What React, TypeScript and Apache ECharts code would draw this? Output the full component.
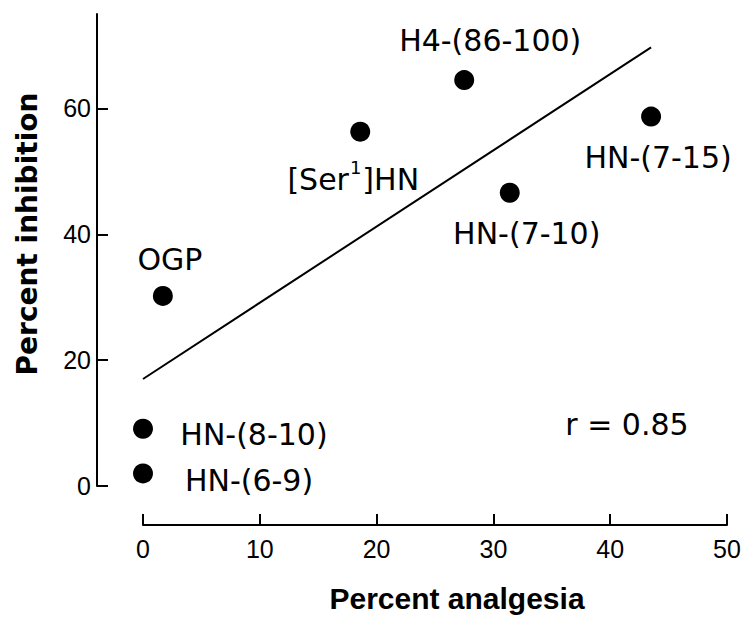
import React, { useEffect, useRef } from "react";
import * as echarts from "echarts";

// Peptides: percent analgesia (x) vs percent inhibition (y)
const PEPTIDES = ["OGP", "{n|[Ser}{sup|1}{n|]HN}", "H4-(86-100)", "HN-(7-10)", "HN-(7-15)", "HN-(8-10)", "HN-(6-9)"];
const ANALGESIA = [1.7, 18.6, 27.5, 31.4, 43.5, 0, 0];
const INHIBITION = [30.2, 56.3, 64.5, 46.6, 58.7, 9.1, 2.0];

// Regression line end points
const FIT_X = [0, 43.5];
const FIT_Y = [17.0, 69.7];

const X_TICKS = [0, 10, 20, 30, 40, 50];
const Y_TICKS = [0, 20, 40, 60];
const R_TEXT = "r = 0.85";

// label placement (pixel offsets from the marker centre)
const LABEL_OFFSETS: [number, number][] = [
  [7, -36],
  [-7, 45],
  [26, -40],
  [17, 41],
  [7, 41],
  [111, 6],
  [106, 7],
];

export default function App() {
  const ref = useRef<HTMLDivElement>(null);
  useEffect(() => {
    if (!ref.current) return;
    const chart = echarts.init(ref.current, undefined, { renderer: "svg" });
    const labelFont = "DejaVu Sans";
    const axisFont = "Liberation Sans";
    chart.setOption({
      animation: false,
      backgroundColor: "#ffffff",
      grid: { left: 143, right: 20, top: 14, bottom: 136, containLabel: false },
      xAxis: {
        type: "value",
        min: 0,
        max: 50,
        interval: 10,
        offset: 39,
        axisLine: { show: true, onZero: false, lineStyle: { color: "#000", width: 2 } },
        axisTick: { show: true, inside: true, length: 11, lineStyle: { color: "#000", width: 2 }, customValues: X_TICKS },
        axisLabel: { color: "#000", fontSize: 25, fontFamily: axisFont, margin: 11, customValues: X_TICKS },
        splitLine: { show: false },
        name: "Percent analgesia",
        nameLocation: "middle",
        nameGap: 58,
        nameMoveOverlap: false,
        nameTextStyle: {
          color: "#000",
          fontSize: 30,
          fontWeight: "bold",
          fontFamily: axisFont,
          padding: [0, 0, 0, 44],
        },
      },
      yAxis: {
        type: "value",
        min: 0,
        max: 75,
        interval: 20,
        offset: 46,
        axisLine: { show: true, onZero: false, lineStyle: { color: "#000", width: 2 } },
        axisTick: { show: true, inside: true, length: 11, lineStyle: { color: "#000", width: 2 }, customValues: Y_TICKS },
        axisLabel: { color: "#000", fontSize: 25, fontFamily: axisFont, margin: 6, customValues: Y_TICKS },
        splitLine: { show: false },
        name: "Percent inhibition",
        nameLocation: "middle",
        nameGap: 56,
        nameRotate: 90,
        nameMoveOverlap: false,
        nameTextStyle: {
          color: "#000",
          fontSize: 28,
          fontWeight: "bold",
          fontFamily: labelFont,
          padding: [0, 0, 0, 32],
        },
      },
      series: [
        {
          type: "line",
          data: FIT_X.map((x, i) => [x, FIT_Y[i]]),
          symbol: "none",
          lineStyle: { color: "#000", width: 2 },
          silent: true,
          z: 1,
        },
        {
          type: "scatter",
          symbol: "circle",
          symbolSize: 20,
          itemStyle: { color: "#000", opacity: 1 },
          z: 2,
          data: PEPTIDES.map((name, i) => ({
            value: [ANALGESIA[i], INHIBITION[i]],
            name,
            label: {
              show: true,
              position: "inside",
              offset: LABEL_OFFSETS[i],
              formatter: name,
              color: "#000",
              opacity: 1,
              fontSize: 30,
              fontFamily: labelFont,
              align: "center",
              verticalAlign: "middle",
              rich: {
                n: { fontSize: 30, fontFamily: labelFont, color: "#000", verticalAlign: "bottom", lineHeight: 36, padding: [6, 0, 0, 0] },
                sup: { fontSize: 18, fontFamily: labelFont, color: "#000", verticalAlign: "top", lineHeight: 20, padding: [0, 1, 0, 1] },
              },
            },
          })),
        },
      ],
      graphic: [
        {
          type: "text",
          x: 627,
          y: 424,
          style: {
            text: R_TEXT,
            fill: "#000",
            fontSize: 30,
            fontFamily: labelFont,
            textAlign: "center",
            textVerticalAlign: "middle",
          },
        },
      ],
    });
    return () => chart.dispose();
  }, []);
  return (
    <div
      ref={ref}
      style={{ position: "fixed", left: 0, top: 0, width: 747, height: 622, background: "#fff" }}
    />
  );
}
